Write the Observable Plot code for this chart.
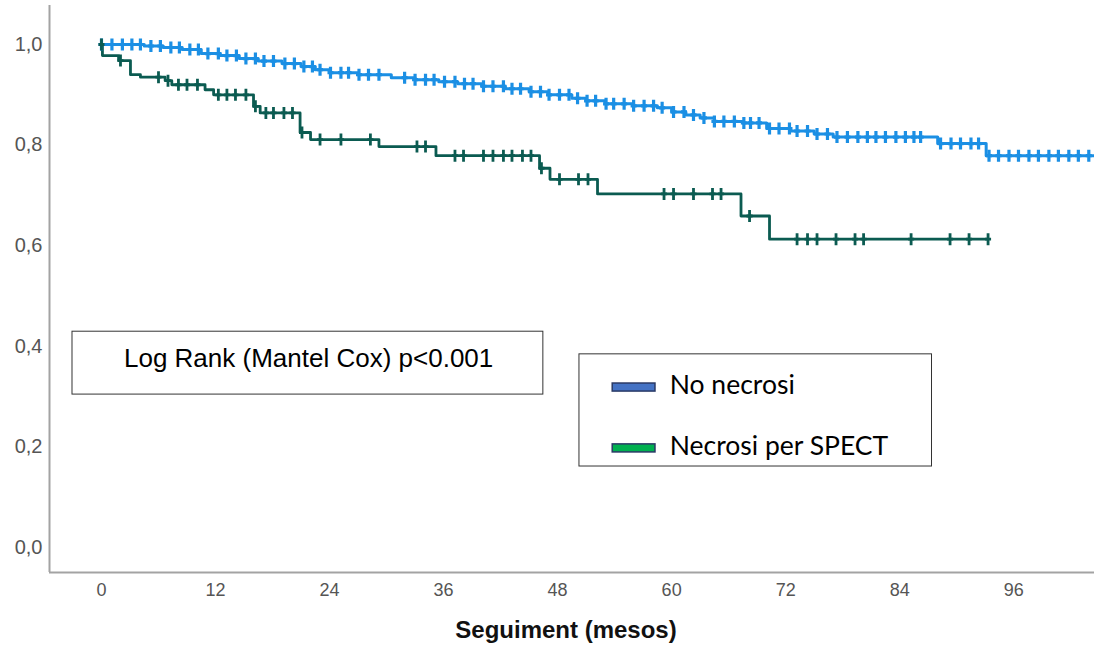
<!DOCTYPE html>
<html>
<head>
<meta charset="utf-8">
<script src="https://cdn.jsdelivr.net/npm/d3@7"></script>
<script src="https://cdn.jsdelivr.net/npm/@observablehq/plot@0.6"></script>
<style>
html, body { margin: 0; padding: 0; background: #fff; }
#chart { width: 1094px; height: 657px; }
</style>
</head>
<body>
<div id="chart"></div>
<script>
// ---- Data ----
const seriesNames = ["No necrosi", "Necrosi per SPECT"];
const seriesColors = ["#1b8fe4", "#0b5b51"];
const swatchColors = ["#4472c4", "#00b050"];

// Kaplan-Meier steps [month, survival]
const noNecrosiSteps = [
  [0, 1.0], [4.5, 0.997], [6.5, 0.994], [8.5, 0.990], [10.5, 0.982], [12.5, 0.978],
  [14.5, 0.972], [16.5, 0.967], [19, 0.962], [21, 0.956], [22.5, 0.950], [24, 0.944],
  [27, 0.940], [30.5, 0.934], [33, 0.930], [35.5, 0.926], [37.5, 0.922], [40, 0.917],
  [42.5, 0.912], [45, 0.906], [47, 0.900], [49.5, 0.893], [51, 0.888], [53, 0.882],
  [56, 0.878], [58.5, 0.874], [60, 0.866], [61.5, 0.860], [63, 0.854], [64.5, 0.847],
  [67.5, 0.844], [70, 0.833], [72.5, 0.828], [75, 0.822], [77, 0.816], [88, 0.803],
  [93.1, 0.779], [104.5, 0.779]
];
const necrosiSteps = [
  [0, 1.0], [0.1, 0.978], [1.8, 0.968], [3.05, 0.940], [4.1, 0.935], [6.7, 0.928],
  [7.4, 0.920], [10.9, 0.910], [11.8, 0.900], [16.0, 0.877], [16.7, 0.864],
  [20.9, 0.825], [22.0, 0.811], [29.2, 0.797], [35.2, 0.779], [46.1, 0.754],
  [47.2, 0.732], [52.2, 0.703], [67.3, 0.659], [70.3, 0.613], [93.3, 0.613]
];

// Censored observations (months)
const noNecrosiCensored = [
  0, 1.1, 2.2, 3.2, 4.1, 5.2, 6.2, 7.3, 8.2, 9.3, 10.2, 11.2, 12.3, 13.2, 14.2, 15.2,
  16.2, 17.1, 18.1, 19.3, 20.3, 21.3, 22.2, 23.0, 24.1, 25.2, 26.0, 27.1, 28.1, 29.2,
  31.9, 33.0, 34.1, 35.0, 36.1, 37.2, 38.2, 39.1, 40.2, 41.2, 42.3, 43.2, 44.1, 45.2,
  46.2, 47.1, 48.2, 49.2, 50.1, 51.1, 52.0, 53.1, 53.9, 55.0, 56.0, 57.1, 58.1, 59.0,
  60.2, 61.3, 62.3, 63.4, 64.5, 65.5, 66.6, 67.6, 68.3, 69.2, 70.3, 71.3, 72.4, 73.2,
  74.3, 75.3, 76.4, 77.4, 78.5, 79.6, 80.6, 81.5, 82.5, 83.6, 84.6, 85.5, 86.2, 88.3,
  89.4, 90.4, 91.5, 92.3, 93.4, 94.4, 95.5, 96.5, 97.6, 98.6, 99.7, 100.7, 101.8,
  102.8, 103.9
];
const necrosiCensored = [
  0, 2.0, 6.0, 7.0, 8.1, 9.0, 10.1, 12.3, 13.2, 14.1, 15.2, 16.2, 17.3, 18.1, 19.2,
  20.1, 21.1, 23.0, 25.2, 28.3, 33.2, 34.1, 37.2, 38.1, 40.2, 41.2, 42.3, 43.2, 44.3,
  45.2, 46.3, 48.2, 50.2, 51.2, 59.2, 60.2, 62.3, 64.3, 65.2, 68.2, 73.2, 74.3, 75.3,
  77.3, 79.3, 80.2, 85.2, 89.3, 91.3, 93.3
];

const xTicks = [0, 12, 24, 36, 48, 60, 72, 84, 96];
const yTicks = [0, 0.2, 0.4, 0.6, 0.8, 1.0];
const xLabel = "Seguiment (mesos)";
const testLabel = "Log Rank (Mantel Cox) p<0.001";

// ---- Layout (data coordinates) ----
const xDomain = [-5.47, 104.5];
const yDomain = [-0.0497, 1.0775];
const annotBox = {x1: -3.05, x2: 46.5, y1: 0.304, y2: 0.429, tx: 21.8, ty: 0.376};
const legendBox = {x1: 50.3, x2: 87.4, y1: 0.161, y2: 0.384};
const legendRows = [
  {sx1: 53.8, sx2: 58.3, sy1: 0.310, sy2: 0.326, tx: 59.8, ty: 0.322},
  {sx1: 53.8, sx2: 58.3, sy1: 0.189, sy2: 0.205, tx: 59.8, ty: 0.201}
];

function survivalAt(steps, t) {
  let s = steps[0][1];
  for (const [ti, si] of steps) { if (ti <= t) s = si; else break; }
  return s;
}

const censorSymbol = {
  draw(context, size) {
    const r = Math.sqrt(size / Math.PI);
    context.moveTo(0, -r); context.lineTo(0, r);
    context.moveTo(-r * 0.5, 0); context.lineTo(r * 0.5, 0);
  }
};

const legendData = seriesNames.map((name, i) => ({name, color: swatchColors[i], ...legendRows[i]}));

const chart = Plot.plot({
  width: 1094,
  height: 657,
  marginLeft: 49,
  marginRight: 0,
  marginTop: 5,
  marginBottom: 85,
  x: {domain: xDomain},
  y: {domain: yDomain},
  style: {fontFamily: "'Liberation Sans', Arial, sans-serif", fontSize: "17px", color: "#555", background: "#fff"},
  marks: [
    Plot.ruleX([xDomain[0]], {stroke: "#a3a3a3", strokeWidth: 2}),
    Plot.ruleY([yDomain[0]], {stroke: "#a3a3a3", strokeWidth: 2}),
    Plot.axisX({ticks: xTicks, tickSize: 0, tickPadding: 11, label: null, fontSize: 18}),
    Plot.axisY({ticks: yTicks, tickSize: 0, tickPadding: 7, label: null, fontSize: 20,
      tickFormat: d => d.toFixed(1).replace(".", ",")}),
    Plot.text([xLabel], {frameAnchor: "bottom", dy: 65, dx: -6, text: d => d, fontSize: 24,
      fontWeight: "bold", fill: "#111"}),
    // Annotation box
    Plot.rect([annotBox], {x1: "x1", x2: "x2", y1: "y1", y2: "y2", fill: "white", stroke: "#333", strokeWidth: 1}),
    Plot.text([annotBox], {x: "tx", y: "ty", text: () => testLabel, fontSize: 26,
      fill: "#000", textAnchor: "middle"}),
    // Legend
    Plot.rect([legendBox], {x1: "x1", x2: "x2", y1: "y1", y2: "y2", fill: "white", stroke: "#333", strokeWidth: 1}),
    Plot.rect(legendData, {x1: "sx1", x2: "sx2", y1: "sy1", y2: "sy2", fill: "color", stroke: "#2a3a66", strokeWidth: 1.5}),
    Plot.text(legendData, {x: "tx", y: "ty", text: "name", fontSize: 26.5, textAnchor: "start",
      fontFamily: "Lato, 'Open Sans', sans-serif", fill: "#000"}),
    // Curves
    Plot.line(noNecrosiSteps, {x: d => d[0], y: d => d[1], curve: "step-after", stroke: seriesColors[0], strokeWidth: 3}),
    Plot.line(necrosiSteps, {x: d => d[0], y: d => d[1], curve: "step-after", stroke: seriesColors[1], strokeWidth: 2.8}),
    Plot.dot(noNecrosiCensored, {x: d => d, y: d => survivalAt(noNecrosiSteps, d), symbol: censorSymbol,
      r: 6, fill: "none", stroke: seriesColors[0], strokeWidth: 3.2}),
    Plot.dot(necrosiCensored, {x: d => d, y: d => survivalAt(necrosiSteps, d), symbol: censorSymbol,
      r: 6, fill: "none", stroke: seriesColors[1], strokeWidth: 2.8})
  ]
});
document.getElementById("chart").appendChild(chart);
</script>
</body>
</html>
